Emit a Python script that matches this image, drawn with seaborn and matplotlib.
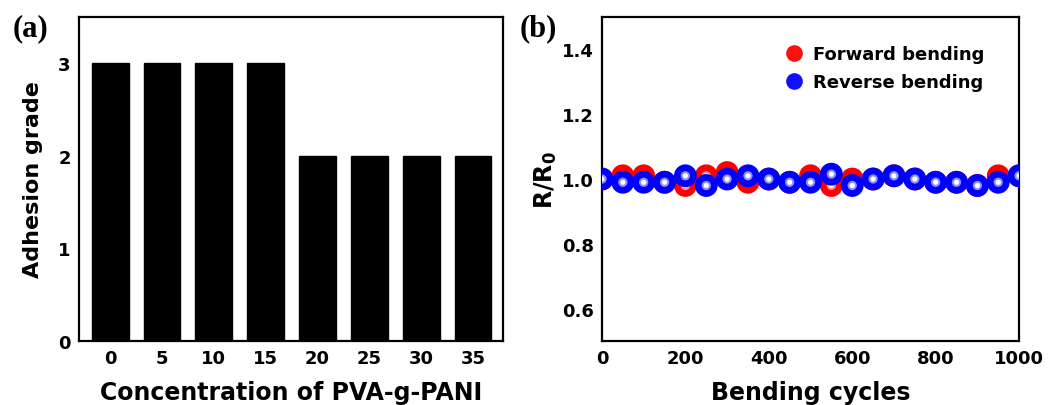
import numpy as np
import pandas as pd
import matplotlib
matplotlib.use("Agg")
import matplotlib.pyplot as plt
import seaborn as sns
from matplotlib.lines import Line2D

# ---- data ----
concentrations = ["0", "5", "10", "15", "20", "25", "30", "35"]
adhesion_grade = [3, 3, 3, 3, 2, 2, 2, 2]

cycles = [0, 50, 100, 150, 200, 250, 300, 350, 400, 450, 500,
          550, 600, 650, 700, 750, 800, 850, 900, 950, 1000]
forward = [1.00, 1.01, 1.01, 0.99, 0.98, 1.01, 1.02, 0.99, 1.00, 0.99, 1.01,
           0.98, 1.00, 1.00, 1.01, 1.00, 0.99, 0.99, 0.98, 1.01, 1.01]
reverse = [1.00, 0.99, 0.99, 0.99, 1.01, 0.98, 1.00, 1.01, 1.00, 0.99, 0.99,
           1.015, 0.98, 1.00, 1.01, 1.00, 0.99, 0.99, 0.98, 0.99, 1.01]

sns.set_theme(style="white")
plt.rcParams['font.family'] = ['DejaVu Sans']
plt.rcParams['font.weight'] = 'bold'
plt.rcParams['text.color'] = 'black'
plt.rcParams['axes.labelcolor'] = 'black'
plt.rcParams['xtick.color'] = 'black'
plt.rcParams['ytick.color'] = 'black'
plt.rcParams['mathtext.default'] = 'bf'

fig = plt.figure(figsize=(10.48, 4.06), dpi=100)
ax1 = fig.add_axes([0.0754, 0.1576, 0.4046, 0.798])
ax2 = fig.add_axes([0.5744, 0.1576, 0.398, 0.798])

# ---- panel (a) ----
df_a = pd.DataFrame({"conc": concentrations, "grade": adhesion_grade})
sns.barplot(data=df_a, x="conc", y="grade", color="black", width=0.71,
            saturation=1, ax=ax1, edgecolor="black")
ax1.set_xlim(-0.6, 7.58)
ax1.set_ylim(0, 3.5)
ax1.set_yticks([0, 1, 2, 3])
ax1.set_xlabel("Concentration of PVA-g-PANI", fontsize=17, fontweight="bold", labelpad=9)
ax1.set_ylabel("Adhesion grade", fontsize=16, fontweight="bold", labelpad=11)
ax1.tick_params(axis="both", direction="in", length=4, width=1.3, labelsize=13, pad=6)
for lab in ax1.get_xticklabels() + ax1.get_yticklabels():
    lab.set_fontweight("bold")
for s in ax1.spines.values():
    s.set_linewidth(1.6)
    s.set_color("black")
fig.text(0.012, 0.965, "(a)", fontsize=22, fontweight="bold",
         family=["Liberation Serif", "DejaVu Serif"], va="top", ha="left")

# ---- panel (b) ----
df_b = pd.DataFrame({"cycles": cycles * 2,
                     "ratio": forward + reverse,
                     "mode": ["Forward bending"] * len(cycles) + ["Reverse bending"] * len(cycles)})
base = {"Forward bending": "#ff0000", "Reverse bending": "#0000ff"}
light = {"Forward bending": "#ff9090", "Reverse bending": "#9090ff"}
for i, mode in enumerate(["Forward bending", "Reverse bending"]):
    sub = df_b[df_b["mode"] == mode]
    z = 3 + 3 * i
    sns.scatterplot(data=sub, x="cycles", y="ratio", color=base[mode],
                    s=270, edgecolor="none", linewidth=0, ax=ax2, legend=False, zorder=z)
    ax2.scatter(sub["cycles"], sub["ratio"], s=45, color=light[mode], edgecolor="none", zorder=z + 1)
    ax2.scatter(sub["cycles"], sub["ratio"], s=14, color="white", edgecolor="none", zorder=z + 2)

ax2.set_xlim(0, 1000)
ax2.set_ylim(0.5, 1.5)
ax2.set_xticks([0, 200, 400, 600, 800, 1000])
ax2.set_xticks([100, 300, 500, 700, 900], minor=True)
ax2.set_yticks([0.6, 0.8, 1.0, 1.2, 1.4])
ax2.set_yticks([0.5, 0.7, 0.9, 1.1, 1.3, 1.5], minor=True)
ax2.set_xlabel("Bending cycles", fontsize=17, fontweight="bold", labelpad=9)
ax2.set_ylabel("R/R$_0$", fontsize=17, fontweight="bold", labelpad=2)
ax2.tick_params(axis="both", which="major", direction="in", length=4, width=1.3, labelsize=13, pad=6)
ax2.tick_params(axis="both", which="minor", direction="in", length=2.5, width=1.1)
for lab in ax2.get_xticklabels() + ax2.get_yticklabels():
    lab.set_fontweight("bold")
for s in ax2.spines.values():
    s.set_linewidth(1.6)
    s.set_color("black")
ax2.grid(False)

handles = [Line2D([], [], marker="o", linestyle="none", markersize=12, color="#ff1010",
                  markeredgecolor="none", label="Forward bending"),
           Line2D([], [], marker="o", linestyle="none", markersize=12, color="#1010ff",
                  markeredgecolor="none", label="Reverse bending")]
ax2.legend(handles=handles, loc="upper right", bbox_to_anchor=(0.935, 0.935), frameon=False,
           prop={"weight": "bold", "size": 13}, handletextpad=0.5, labelspacing=0.55,
           borderaxespad=0, handlelength=1.2)
fig.text(0.496, 0.965, "(b)", fontsize=22, fontweight="bold",
         family=["Liberation Serif", "DejaVu Serif"], va="top", ha="left")

fig.savefig("out.png", dpi=100, facecolor="white")
